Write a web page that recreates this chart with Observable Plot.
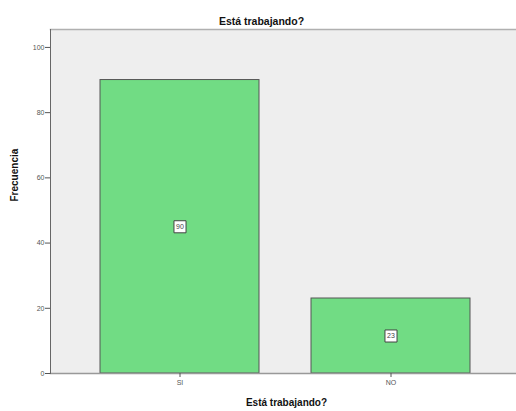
<!DOCTYPE html>
<html>
<head>
<meta charset="utf-8">
<script src="https://cdn.jsdelivr.net/npm/d3@7"></script>
<script src="https://cdn.jsdelivr.net/npm/@observablehq/plot@0.6"></script>
<style>
  body { margin: 0; background: #fff; }
  svg { display: block; }
</style>
</head>
<body>
<div id="chart"></div>
<script>
const categories = ["SI", "NO"];
const frecuencias = [90, 23];
const yTicks = [0, 20, 40, 60, 80, 100];
const titleText = "Está trabajando?";
const xLabelText = "Está trabajando?";
const yLabelText = "Frecuencia";

const data = categories.map((c, i) => ({cat: c, value: frecuencias[i]}));
const font = "'Liberation Sans', Arial, sans-serif";

const chart = Plot.plot({
  width: 516,
  height: 411,
  marginLeft: 50,
  marginRight: 0,
  marginTop: 29,
  marginBottom: 38,
  style: {fontFamily: font, background: "#fff"},
  x: {domain: categories, paddingInner: 0.246, paddingOuter: 0.227, align: 0.52, label: null},
  y: {domain: [0, 105.5], label: null},
  marks: [
    Plot.frame({fill: "#eeeeee", stroke: null}),
    Plot.frame({anchor: "top", stroke: "#b0b0b0", strokeWidth: 1.5}),
    Plot.barY(data, {x: "cat", y: "value", fill: "#71dc84", stroke: "#555", strokeWidth: 1}),
    Plot.frame({anchor: "bottom", stroke: "#999", strokeWidth: 1.5}),
    Plot.frame({anchor: "left", stroke: "#666", strokeWidth: 1}),
    Plot.axisY({ticks: yTicks, tickSize: 5, tickPadding: 1, fontSize: 7, color: "#555", label: null}),
    Plot.axisX({tickSize: 4, tickPadding: 3, fontSize: 7, color: "#555", label: null}),
    Plot.dot(data, {x: "cat", y: d => d.value / 2, symbol: "square", r: 6.8, fill: "white", stroke: "#444", strokeWidth: 1}),
    Plot.text(data, {x: "cat", y: d => d.value / 2, text: d => String(d.value), fontSize: 7, fill: "#444"}),
    Plot.text([titleText], {frameAnchor: "top", dy: -12, dx: -22, fontSize: 10.5, fontWeight: "bold", fill: "#111"}),
    Plot.text([xLabelText], {frameAnchor: "bottom", dy: 32.5, dx: 3, fontSize: 10, fontWeight: "bold", fill: "#111"}),
    Plot.text([yLabelText], {frameAnchor: "left", dx: -35.5, rotate: -90, fontSize: 10, fontWeight: "bold", fill: "#111"})
  ]
});
document.getElementById("chart").appendChild(chart);
</script>
</body>
</html>
